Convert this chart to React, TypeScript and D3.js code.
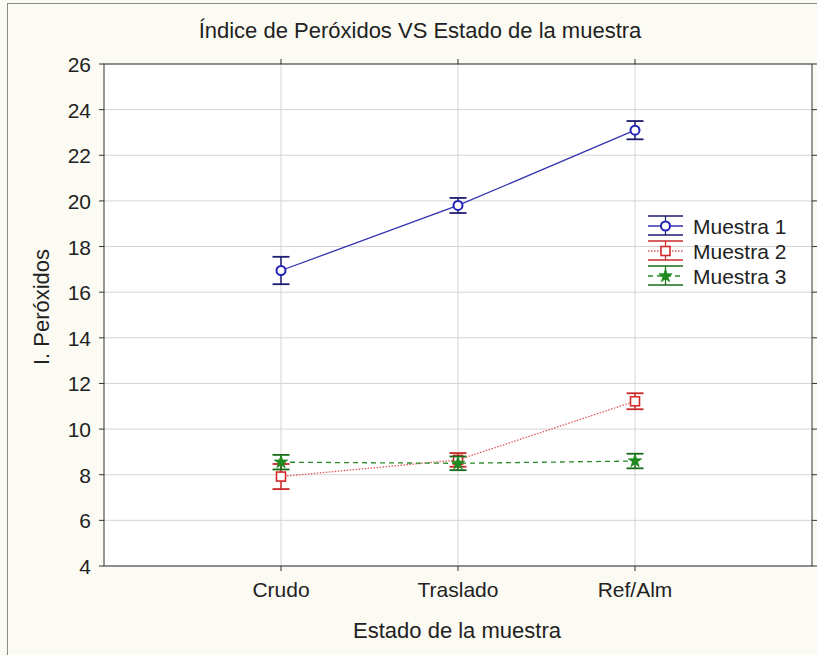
import React from "react";
import * as d3 from "d3";

const categories = ["Crudo", "Traslado", "Ref/Alm"];
const seriesNames = ["Muestra 1", "Muestra 2", "Muestra 3"];
const muestra1 = [16.95, 19.8, 23.1];
const muestra1Err = [0.6, 0.33, 0.4];
const muestra2 = [7.92, 8.65, 11.22];
const muestra2Err = [0.55, 0.3, 0.35];
const muestra3 = [8.55, 8.5, 8.6];
const muestra3Err = [0.32, 0.3, 0.32];
const yTicks = [4, 6, 8, 10, 12, 14, 16, 18, 20, 22, 24, 26];

const W = 817;
const H = 655;
const FONT = "'Liberation Sans', Arial, sans-serif";

type Series = {
  name: string;
  values: number[];
  errs: number[];
  color: string;
  barColor: string;
  lineColor: string;
  dash: string;
  marker: "circle" | "square" | "star";
};

const series: Series[] = [
  { name: seriesNames[0], values: muestra1, errs: muestra1Err, color: "#2222b8", barColor: "#1c1c70", lineColor: "#3333b0", dash: "", marker: "circle" },
  { name: seriesNames[1], values: muestra2, errs: muestra2Err, color: "#d42a2a", barColor: "#c82828", lineColor: "#e05a5a", dash: "1.5,1.5", marker: "square" },
  { name: seriesNames[2], values: muestra3, errs: muestra3Err, color: "#1f8a1f", barColor: "#166b16", lineColor: "#2a8a2a", dash: "5,4", marker: "star" },
];

function Marker({ type, cx, cy, color }: { type: string; cx: number; cy: number; color: string }) {
  if (type === "circle") {
    return <circle cx={cx} cy={cy} r={4.5} fill="white" stroke={color} strokeWidth={2} />;
  }
  if (type === "square") {
    return <rect x={cx - 4.5} y={cy - 4.5} width={9} height={9} fill="white" stroke={color} strokeWidth={1.6} />;
  }
  const star = d3.symbol().type(d3.symbolStar).size(55)();
  return <path d={star || ""} transform={`translate(${cx},${cy})`} fill={color} stroke={color} strokeWidth={0.8} />;
}

export default function App() {
  const left = 104, right = 812, top = 64, bottom = 566;
  const x = d3.scaleLinear().domain([0, 4]).range([left, right]);
  const y = d3.scaleLinear().domain([4, 26]).range([bottom, top]);
  const line = d3.line<number>().x((_, i) => x(i + 1)).y((d) => y(d));
  const capW = 8.5;

  return (
    <svg width={W} height={H} style={{ position: "absolute", left: 0, top: 0 }} fontFamily={FONT}>
      <rect x={0} y={0} width={W} height={H} fill="#fcfbf3" />
      <rect x={7.5} y={3.5} width={W + 5} height={H + 5} fill="none" stroke="#8a8a8a" strokeWidth={1} />
      <text x={420} y={38} textAnchor="middle" fontSize={22} fill="#222">Índice de Peróxidos VS Estado de la muestra</text>
      <rect x={left} y={top} width={right - left} height={bottom - top} fill="white" />
      {yTicks.map((t) => (
        <g key={t}>
          <line x1={left} x2={right} y1={y(t)} y2={y(t)} stroke="#d4d4d4" strokeWidth={1} />
          <line x1={left - 5} x2={left} y1={y(t)} y2={y(t)} stroke="#333" />
          <line x1={right} x2={right + 5} y1={y(t)} y2={y(t)} stroke="#333" />
          <text x={91} y={y(t) + 8} textAnchor="end" fontSize={21} fill="#222">{t}</text>
        </g>
      ))}
      {categories.map((c, i) => (
        <g key={c}>
          <line x1={x(i + 1)} x2={x(i + 1)} y1={top} y2={bottom} stroke="#d4d4d4" />
          <line x1={x(i + 1)} x2={x(i + 1)} y1={bottom} y2={bottom + 5} stroke="#333" />
          <line x1={x(i + 1)} x2={x(i + 1)} y1={top - 5} y2={top} stroke="#333" />
          <text x={x(i + 1)} y={597} textAnchor="middle" fontSize={21} fill="#222">{c}</text>
        </g>
      ))}
      <rect x={left} y={top} width={right - left} height={bottom - top} fill="none" stroke="#333" strokeWidth={1} />
      {series.map((s) => (
        <g key={s.name}>
          <path d={line(s.values) || ""} fill="none" stroke={s.lineColor} strokeWidth={1.3} strokeDasharray={s.dash || undefined} />
          {s.values.map((v, i) => {
            const cx = x(i + 1);
            return (
              <g key={i}>
                <line x1={cx} x2={cx} y1={y(v + s.errs[i])} y2={y(v - s.errs[i])} stroke={s.barColor} strokeWidth={1.5} />
                <line x1={cx - capW} x2={cx + capW} y1={y(v + s.errs[i])} y2={y(v + s.errs[i])} stroke={s.barColor} strokeWidth={1.8} />
                <line x1={cx - capW} x2={cx + capW} y1={y(v - s.errs[i])} y2={y(v - s.errs[i])} stroke={s.barColor} strokeWidth={1.8} />
                <Marker type={s.marker} cx={cx} cy={y(v)} color={s.color} />
              </g>
            );
          })}
        </g>
      ))}
      <g>
        {series.map((s, i) => {
          const cy = 226 + i * 25;
          const lx1 = 648, lx2 = 683, mid = (lx1 + lx2) / 2;
          return (
            <g key={s.name}>
              <line x1={lx1} x2={lx2} y1={cy - 10} y2={cy - 10} stroke={s.barColor} strokeWidth={1.6} />
              <line x1={lx1} x2={lx2} y1={cy + 9} y2={cy + 9} stroke={s.barColor} strokeWidth={1.6} />
              <line x1={mid} x2={mid} y1={cy - 10} y2={cy + 9} stroke={s.barColor} strokeWidth={1.2} />
              <line x1={lx1} x2={lx2} y1={cy} y2={cy} stroke={s.lineColor} strokeWidth={1.3} strokeDasharray={s.dash || undefined} />
              <Marker type={s.marker} cx={mid} cy={cy} color={s.color} />
              <text x={693} y={cy + 8} fontSize={21} fill="#222">{s.name}</text>
            </g>
          );
        })}
      </g>
      <text x={457} y={638} textAnchor="middle" fontSize={22} fill="#222">Estado de la muestra</text>
      <text transform={`translate(49,${307}) rotate(-90)`} textAnchor="middle" fontSize={22} fill="#222">I. Peróxidos</text>
    </svg>
  );
}
